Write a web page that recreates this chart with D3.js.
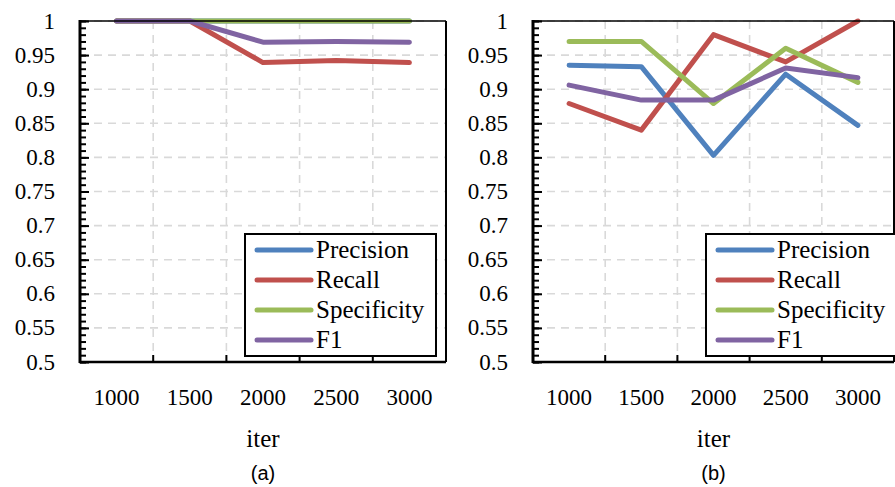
<!DOCTYPE html>
<html>
<head>
<meta charset="utf-8">
<script src="https://cdn.jsdelivr.net/npm/d3@7"></script>
<style>
  body { margin: 0; background: #fff; }
  svg { display: block; }
  .serif { font-family: "Liberation Serif", "Times New Roman", Times, "DejaVu Serif", serif; }
</style>
</head>
<body>
<div id="chart"></div>
<script>
// categories / ticks
const iters = ["1000", "1500", "2000", "2500", "3000"];
const yTicks = [0.5, 0.55, 0.6, 0.65, 0.7, 0.75, 0.8, 0.85, 0.9, 0.95, 1];
const seriesNames = ["Precision", "Recall", "Specificity", "F1"];
const colors = ["#4f81bd", "#c0504d", "#9bbb59", "#8064a2"];

// panel (a)
const precisionA = [1, 1, 1, 1, 1];
const recallA = [1, 1, 0.939, 0.942, 0.939];
const specificityA = [1, 1, 1, 1, 1];
const f1A = [1, 1, 0.969, 0.970, 0.969];

// panel (b)
const precisionB = [0.935, 0.933, 0.803, 0.922, 0.847];
const recallB = [0.879, 0.840, 0.980, 0.940, 1.0];
const specificityB = [0.970, 0.970, 0.879, 0.960, 0.910];
const f1B = [0.906, 0.884, 0.884, 0.931, 0.917];

const W = 895, H = 487;

let svg = d3.select("#chart").append("svg")
    .attr("width", W)
    .attr("height", H);

function drawPanel(left, right, series, letter, legendX) {
  const top = 21, bottom = 362;
  let x = d3.scaleBand().domain(iters).range([left, right]).padding(0);
  let y = d3.scaleLinear().domain([0.5, 1]).range([bottom, top]);
  let g = svg.append("g");

  // gridlines
  g.selectAll(".hgrid").data(yTicks.slice(1)).enter()
    .append("line")
    .attr("x1", left).attr("x2", right)
    .attr("y1", d => y(d)).attr("y2", d => y(d))
    .attr("stroke", "#d9d9d9").attr("stroke-width", 1.6)
    .attr("stroke-dasharray", "8,6");
  let bounds = iters.slice(1).map(d => x(d));
  g.selectAll(".vgrid").data(bounds).enter()
    .append("line")
    .attr("x1", d => d).attr("x2", d => d)
    .attr("y1", top).attr("y2", bottom)
    .attr("stroke", "#d9d9d9").attr("stroke-width", 1.6)
    .attr("stroke-dasharray", "8,6");

  // lines
  let line = d3.line()
    .x((d, i) => x(iters[i]) + x.bandwidth() / 2)
    .y(d => y(d));
  series.forEach((s, i) => {
    g.append("path")
      .datum(s)
      .attr("d", line)
      .attr("fill", "none")
      .attr("stroke", colors[i])
      .attr("stroke-width", 5)
      .attr("stroke-linecap", "round")
      .attr("stroke-linejoin", "round");
  });

  // frame
  g.append("line").attr("x1", left).attr("x2", right).attr("y1", top).attr("y2", top)
    .attr("stroke", "#000").attr("stroke-width", 1.5);
  g.append("line").attr("x1", right).attr("x2", right).attr("y1", top).attr("y2", bottom)
    .attr("stroke", "#000").attr("stroke-width", 2);

  // left axis with minor ticks (inside)
  let minor = d3.range(50, 101).map(d => d / 100);
  g.append("g")
    .attr("transform", `translate(${left},0)`)
    .call(d3.axisLeft(y).tickValues(minor).tickSize(-6).tickFormat(""))
    .call(a => a.select(".domain").remove())
    .selectAll("line").attr("stroke", "#000").attr("stroke-width", 2);
  g.append("g")
    .attr("transform", `translate(${left},0)`)
    .call(d3.axisLeft(y).tickValues(yTicks).tickSize(-9).tickFormat(""))
    .call(a => a.select(".domain").remove())
    .selectAll("line").attr("stroke", "#000").attr("stroke-width", 2);
  g.append("line").attr("x1", left).attr("x2", left).attr("y1", top - 1).attr("y2", bottom + 1)
    .attr("stroke", "#000").attr("stroke-width", 3);

  // y labels
  g.selectAll(".ylab").data(yTicks).enter()
    .append("text")
    .attr("class", "serif")
    .attr("x", left - 25)
    .attr("y", d => y(d))
    .attr("dy", "0.33em")
    .attr("text-anchor", "end")
    .style("font-size", "23px")
    .text(d => String(+d.toFixed(2)));

  // bottom axis
  g.selectAll(".xtick").data(bounds).enter()
    .append("line")
    .attr("x1", d => d).attr("x2", d => d)
    .attr("y1", bottom).attr("y2", bottom - 7)
    .attr("stroke", "#000").attr("stroke-width", 2);
  g.append("line").attr("x1", left - 1).attr("x2", right).attr("y1", bottom).attr("y2", bottom)
    .attr("stroke", "#000").attr("stroke-width", 2.5);

  g.selectAll(".xlab").data(iters).enter()
    .append("text")
    .attr("class", "serif")
    .attr("x", d => x(d) + x.bandwidth() / 2)
    .attr("y", 405)
    .attr("text-anchor", "middle")
    .style("font-size", "23px")
    .text(d => d);

  let mid = (left + right) / 2;
  g.append("text")
    .attr("class", "serif")
    .attr("x", mid).attr("y", 447)
    .attr("text-anchor", "middle")
    .style("font-size", "25px")
    .text("iter");
  g.append("text")
    .attr("x", mid).attr("y", 480)
    .attr("text-anchor", "middle")
    .style("font-family", "'Liberation Sans', Arial, sans-serif")
    .style("font-size", "20px")
    .text("(" + letter + ")");

  // legend
  let lg = g.append("g").attr("transform", `translate(${legendX},234)`);
  lg.append("rect")
    .attr("x", 0).attr("y", 0)
    .attr("width", 191).attr("height", 122)
    .attr("fill", "#fff").attr("stroke", "#000").attr("stroke-width", 2);
  seriesNames.forEach((name, i) => {
    let cy = 16 + i * 30;
    lg.append("line")
      .attr("x1", 12).attr("x2", 66)
      .attr("y1", cy).attr("y2", cy)
      .attr("stroke", colors[i]).attr("stroke-width", 5)
      .attr("stroke-linecap", "round");
    lg.append("text")
      .attr("class", "serif")
      .attr("x", 71).attr("y", cy)
      .attr("dy", "0.33em")
      .style("font-size", "25px")
      .text(name);
  });
}

drawPanel(80, 446, [precisionA, recallA, specificityA, f1A], "a", 245);
drawPanel(533, 894, [precisionB, recallB, specificityB, f1B], "b", 706);
</script>
</body>
</html>
